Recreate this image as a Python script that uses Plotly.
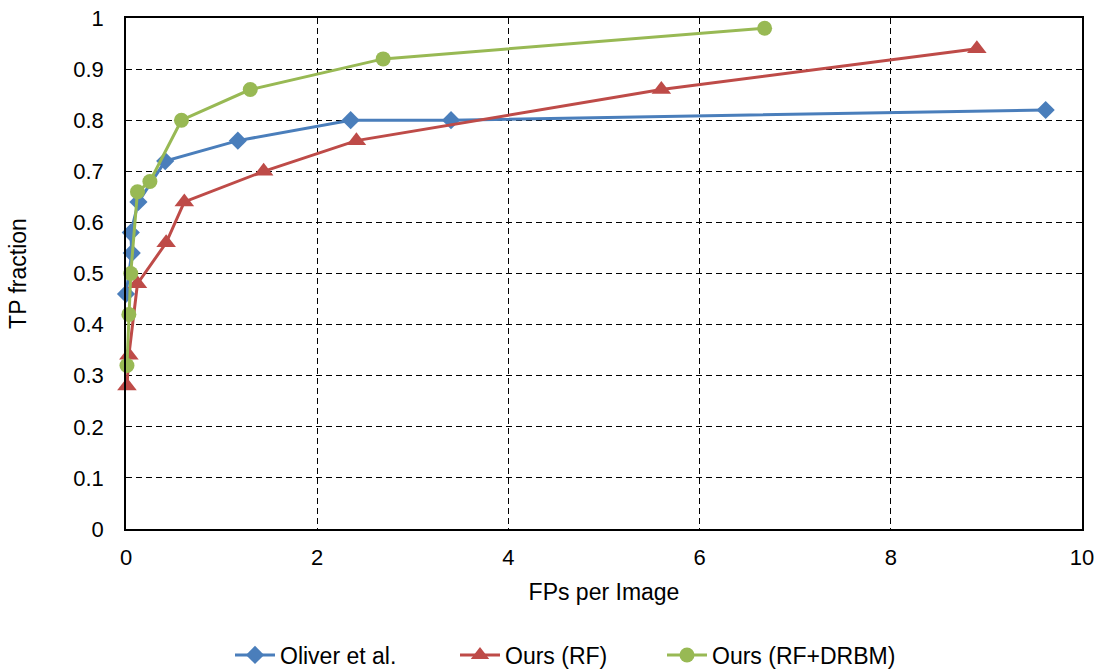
import plotly.graph_objects as go

oliver_x = [0.0, 0.06, 0.05, 0.13, 0.41, 1.17, 2.35, 3.40, 9.62]
oliver_y = [0.46, 0.54, 0.58, 0.64, 0.72, 0.76, 0.80, 0.80, 0.82]

rf_x = [0.01, 0.03, 0.12, 0.42, 0.61, 1.44, 2.41, 5.60, 8.90]
rf_y = [0.28, 0.34, 0.48, 0.56, 0.64, 0.70, 0.76, 0.86, 0.94]

drbm_x = [0.01, 0.03, 0.05, 0.12, 0.25, 0.58, 1.30, 2.69, 6.68]
drbm_y = [0.32, 0.42, 0.50, 0.66, 0.68, 0.80, 0.86, 0.92, 0.98]

series = [
    ("Oliver et al.", oliver_x, oliver_y, "#4A7EBB", "diamond", 14, "legend", 230),
    ("Ours (RF)", rf_x, rf_y, "#BE4B48", "triangle-up", 17, "legend2", 455),
    ("Ours (RF+DRBM)", drbm_x, drbm_y, "#98B954", "circle", 15, "legend3", 662),
]

W, H = 1097, 672

fig = go.Figure()
for name, xs, ys, col, sym, sz, leg, _ in series:
    fig.add_trace(go.Scatter(
        x=xs, y=ys, name=name, mode="lines+markers",
        line=dict(color=col, width=3),
        marker=dict(symbol=sym, size=sz, color=col),
        cliponaxis=False, legend=leg,
    ))

axis_common = dict(
    showline=True, linecolor="black", linewidth=1.5, mirror=True,
    showgrid=True, gridcolor="black", gridwidth=1, griddash="6px,4px",
    zeroline=False, ticks="", tickfont=dict(size=22, color="black"),
    automargin=False,
)

legend_layout = {}
for _, _, _, _, _, _, leg, px in series:
    legend_layout[leg] = dict(
        orientation="h", x=px / W, xanchor="left", xref="container",
        y=17 / H, yanchor="middle", yref="container",
        font=dict(size=23), itemwidth=40, bgcolor="rgba(0,0,0,0)",
    )

fig.update_layout(
    width=W, height=H,
    margin=dict(l=126, r=15, t=18, b=143, autoexpand=False),
    paper_bgcolor="white", plot_bgcolor="white",
    font=dict(family="Liberation Sans, Arial, sans-serif", size=22, color="black"),
    xaxis=dict(range=[0, 10], dtick=2, ticklabelstandoff=8,
               title=dict(text="FPs per Image", font=dict(size=23), standoff=15), **axis_common),
    yaxis=dict(range=[0, 1], dtick=0.1, ticklabelstandoff=16,
               title=dict(text="TP fraction", font=dict(size=23), standoff=40), **axis_common),
    showlegend=True,
    **legend_layout,
)

fig.write_html("out.html")
